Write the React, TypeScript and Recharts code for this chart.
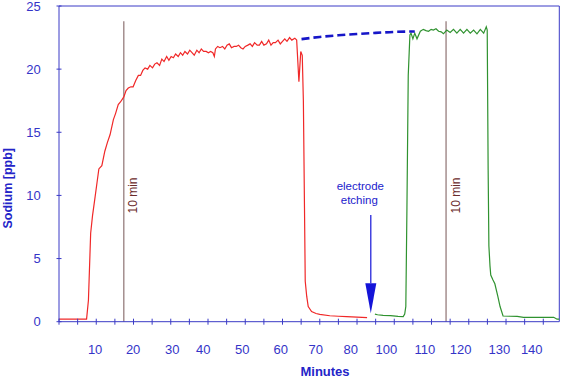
import { LineChart, Line, XAxis, YAxis, ReferenceLine, ReferenceDot } from "recharts"

const FONT = '"Liberation Sans", Arial, sans-serif'
const AXIS_BLUE = "#3a3ac6"

// x is plot time in minutes (the record skips ~12 min while the electrode is etched)
const redRun: [number, number][] = [
  [0, 0.2], [7.4, 0.2], [7.9, 1.7], [8.5, 7.0], [9.0, 8.4], [9.7, 9.9], [10.2, 11.0],
  [10.7, 12.1], [11.5, 12.35], [12.3, 13.5], [13.0, 14.2], [13.7, 14.8], [14.6, 16.0],
  [15.2, 16.5], [15.9, 17.2], [16.5, 17.4], [17.4, 17.8], [18.0, 18.3], [18.6, 18.5],
  [19.3, 18.6], [19.9, 18.6], [20.6, 19.1], [21.3, 19.5], [21.9, 19.5], [22.5, 19.9],
  [23.1, 20.1], [23.8, 20.0], [24.4, 20.3], [25.1, 20.1], [25.7, 20.4], [26.3, 20.5],
  [27.0, 20.3], [27.6, 20.8], [28.2, 20.6], [28.9, 21.0], [29.5, 20.7], [30.1, 21.0],
  [30.7, 20.9], [31.3, 21.2], [32.0, 21.0], [32.6, 21.3], [33.2, 21.1], [33.8, 21.4],
  [34.5, 21.2], [35.1, 21.5], [35.7, 21.3], [36.3, 21.1], [37.0, 21.5], [37.6, 21.3],
  [38.2, 21.6], [38.8, 21.4], [39.5, 21.4], [40.1, 21.3], [40.7, 21.4], [41.3, 21.3],
  [41.7, 21.0], [42.0, 21.6], [42.6, 21.8], [43.2, 21.7], [43.9, 21.8], [44.5, 21.6],
  [45.1, 21.9], [45.7, 22.0], [46.3, 21.7], [47.0, 21.8], [47.6, 21.8], [48.2, 21.9],
  [48.8, 21.7], [49.4, 21.6], [50.0, 21.8], [50.7, 21.9], [51.3, 22.0], [51.9, 21.8],
  [52.5, 22.1], [53.2, 21.9], [53.8, 21.9], [54.4, 22.2], [55.0, 21.9], [55.7, 22.0],
  [56.3, 22.3], [56.9, 21.9], [57.5, 22.1], [58.1, 22.1], [58.8, 22.3], [59.4, 22.0],
  [60.0, 22.2], [60.6, 22.4], [61.2, 22.2], [61.9, 22.5], [62.5, 22.3], [63.3, 22.45],
  [63.8, 22.3], [64.4, 19.0], [64.9, 21.4], [65.3, 21.1], [65.6, 17.5], [65.9, 9.0],
  [66.1, 3.2], [66.5, 2.0], [66.9, 1.2], [67.8, 0.8], [69.0, 0.65], [70.0, 0.58],
  [72.7, 0.47], [75.0, 0.43], [77.2, 0.4], [80.0, 0.36], [82.7, 0.32],
]

const greenRun: [number, number][] = [
  [84.8, 0.6], [85.5, 0.55], [87.0, 0.5], [89.0, 0.48], [91.0, 0.42], [92.4, 0.4],
  [92.8, 0.6], [93.1, 1.2], [93.4, 9.0], [93.75, 19.5], [94.0, 21.3], [94.2, 22.7],
  [94.5, 22.85], [95.0, 22.4], [95.5, 22.85], [96.1, 22.4], [97.0, 23.0], [97.8, 23.15],
  [98.5, 23.05], [99.2, 23.0], [99.9, 23.15], [100.5, 23.1], [101.2, 23.2], [101.9, 23.0],
  [102.6, 22.95], [103.2, 22.8], [104.1, 23.1], [105.0, 22.9], [105.9, 23.15],
  [106.8, 22.85], [107.7, 23.15], [108.6, 22.85], [109.5, 23.15], [110.4, 22.85],
  [111.3, 23.1], [112.2, 22.8], [113.1, 23.15], [114.0, 22.85], [114.7, 23.35],
  [114.95, 23.1], [115.2, 12.0], [115.4, 6.0], [115.7, 4.4], [115.9, 3.7], [116.5, 3.3],
  [117.0, 3.0], [117.8, 2.0], [118.4, 1.2], [119.2, 0.45], [121.0, 0.43], [123.0, 0.42],
  [124.7, 0.35], [128.0, 0.35], [132.8, 0.35], [133.7, 0.2], [134.3, 0.2],
]

// dashed bridge over the etching gap
const bridge: [number, number][] = [
  [65.1, 22.38], [70, 22.55], [75, 22.68], [80, 22.78], [85, 22.87], [90, 22.95], [95.5, 22.98],
]

const xLabelAt = [9.7, 19.9, 30.4, 38.7, 49.2, 59.5, 68.9, 78.3, 87.9, 98.2, 107.8, 118.2, 126.9]
const xLabels = ["10", "20", "30", "40", "50", "60", "70", "80", "100", "110", "120", "130", "140"]
const xMinorTicks = [0, 5, 10, 15, 20, 25, 30, 35, 40, 45, 50, 55, 60, 65, 70, 75, 80, 85, 90, 95, 100, 105, 110, 115, 120, 125, 130]
const xMax = 134.3
const yTicks = [0, 5, 10, 15, 20, 25]

const tenMinMarks = [17.4, 103.9]
const tenMinTop = 23.8
const etchArrow = { x: 83.7, top: 8.45, base: 3.04, tip: 0.66 }

const toPts = (rows: [number, number][]) => rows.map(([x, y]) => ({ x, y }))

function XTick(props: any) {
  const { x, y, payload } = props
  const i = xLabelAt.indexOf(payload.value)
  if (i >= 0) {
    return (
      <text x={x} y={y + 23.3} dy="0.71em" textAnchor="middle" fontSize={13} fontFamily={FONT} fill="#3434c8">
        {xLabels[i]}
      </text>
    )
  }
  return <line x1={x} x2={x} y1={y - 3} y2={y + 3} stroke={AXIS_BLUE} strokeWidth={1} />
}

function YTick(props: any) {
  const { x, y, payload } = props
  return (
    <g>
      <line x1={x - 2.5} x2={x + 2.5} y1={y} y2={y} stroke={AXIS_BLUE} strokeWidth={1} />
      <text x={x - 18.3} y={y} dy="0.355em" textAnchor="end" fontSize={13} fontFamily={FONT} fill="#3434c8">
        {payload.value}
      </text>
    </g>
  )
}

function YTitle() {
  return (
    <text x={12.5} y={188.3} transform="rotate(-90 12.5 188.3)" textAnchor="middle" fontSize={12.5} fontWeight="bold" fontFamily={FONT} fill="#2424c8">
      Sodium [ppb]
    </text>
  )
}

function XTitle() {
  return (
    <text x={325} y={376} textAnchor="middle" fontSize={13} fontWeight="bold" fontFamily={FONT} fill="#2424c8">
      Minutes
    </text>
  )
}

function TenMinLabel(props: any) {
  const vb = props.viewBox || {}
  const tx = vb.x + 13.6
  const ty = vb.y + vb.height * 0.58
  return (
    <text x={tx} y={ty} transform={`rotate(-90 ${tx} ${ty})`} textAnchor="middle" fontSize={12} fontFamily={FONT} fill="#6a2a2a">
      10 min
    </text>
  )
}

function ArrowHead(props: any) {
  const { cx, cy } = props
  return <path d={`M${cx - 5.5},${cy - 30} L${cx + 5.5},${cy - 30} L${cx},${cy} Z`} fill="#1414d8" />
}

function EtchNote(props: any) {
  const { cx, cy } = props
  return (
    <text x={cx - 10.5} y={cy - 25} textAnchor="middle" fontSize={11.5} fontFamily={FONT} fill="#2222cc">
      <tspan x={cx - 10.5}>electrode</tspan>
      <tspan x={cx - 11.5} dy={14}>etching</tspan>
    </text>
  )
}

export default function App() {
  return (
    <div style={{ position: "absolute", left: 0, top: 0, background: "#fff" }}>
      <LineChart width={580} height={383} margin={{ top: 6, right: 20.7, bottom: 0, left: 0 }}>
        <XAxis
          type="number"
          dataKey="x"
          domain={[0, xMax]}
          ticks={[...xMinorTicks, ...xLabelAt]}
          interval={0}
          tick={<XTick />}
          tickLine={false}
          tickSize={0}
          tickMargin={0}
          height={61.3}
          axisLine={{ stroke: AXIS_BLUE }}
          label={<XTitle />}
        />
        <YAxis
          type="number"
          domain={[0, 25]}
          ticks={yTicks}
          interval={0}
          tick={<YTick />}
          tickLine={false}
          tickSize={0}
          tickMargin={0}
          width={59}
          axisLine={{ stroke: AXIS_BLUE }}
          label={<YTitle />}
        />
        <ReferenceLine y={25} stroke={AXIS_BLUE} strokeWidth={1} />
        <ReferenceLine x={xMax} stroke={AXIS_BLUE} strokeWidth={1} />
        {tenMinMarks.map((m) => (
          <ReferenceLine
            key={m}
            segment={[{ x: m, y: 0 }, { x: m, y: tenMinTop }]}
            stroke="#8e7272"
            strokeWidth={1.2}
            label={<TenMinLabel />}
          />
        ))}
        <Line data={toPts(redRun)} dataKey="y" type="linear" stroke="#f02828" strokeWidth={1.2} dot={false} isAnimationActive={false} />
        <Line data={toPts(greenRun)} dataKey="y" type="linear" stroke="#2f922f" strokeWidth={1.2} dot={false} isAnimationActive={false} />
        <Line data={toPts(bridge)} dataKey="y" type="monotone" stroke="#1616c8" strokeWidth={2.6} strokeDasharray="8 4" dot={false} isAnimationActive={false} />
        <ReferenceLine
          segment={[{ x: etchArrow.x, y: etchArrow.top }, { x: etchArrow.x, y: etchArrow.base }]}
          stroke="#1414d8"
          strokeWidth={1.2}
        />
        <ReferenceDot x={etchArrow.x} y={etchArrow.tip} r={0} shape={<ArrowHead />} />
        <ReferenceDot x={etchArrow.x} y={etchArrow.top} r={0} shape={<EtchNote />} />
      </LineChart>
    </div>
  )
}
